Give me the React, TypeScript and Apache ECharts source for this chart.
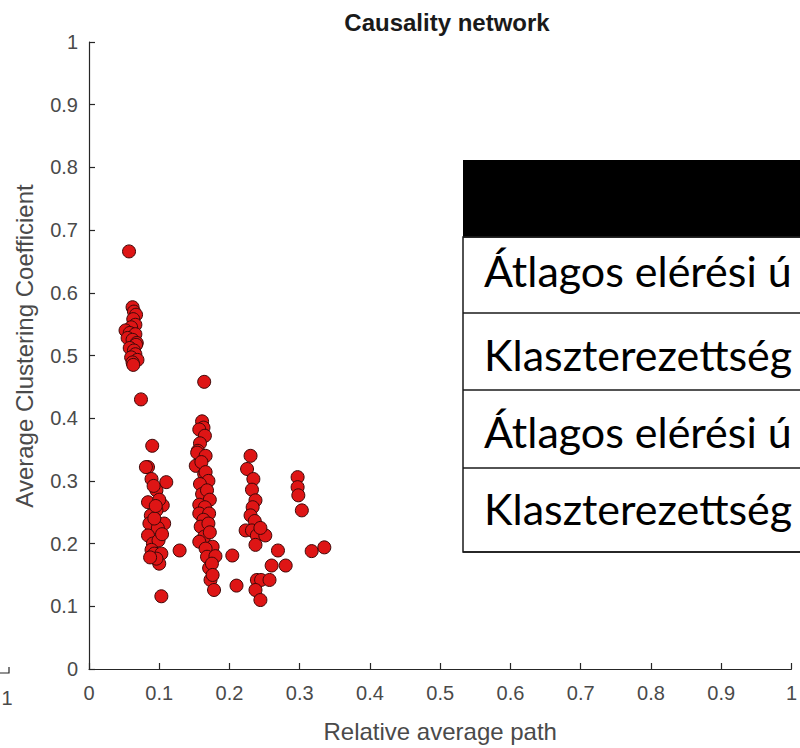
import React, { useEffect, useRef } from "react";
import * as echarts from "echarts";

// ---- Data ----
const titleText = "Causality network";
const xAxisName = "Relative average path";
const yAxisName = "Average Clustering Coefficient";
const xTicks = [0, 0.1, 0.2, 0.3, 0.4, 0.5, 0.6, 0.7, 0.8, 0.9, 1];
const yTicks = [0, 0.1, 0.2, 0.3, 0.4, 0.5, 0.6, 0.7, 0.8, 0.9, 1];

const clusterA: [number, number][] = [
  [0.057, 0.666], [0.062, 0.577], [0.064, 0.570], [0.067, 0.565], [0.063, 0.558],
  [0.066, 0.549], [0.060, 0.545], [0.052, 0.540], [0.058, 0.536], [0.066, 0.534],
  [0.055, 0.528], [0.062, 0.525], [0.068, 0.520], [0.067, 0.517], [0.058, 0.512],
  [0.064, 0.508], [0.066, 0.502], [0.060, 0.497], [0.069, 0.493], [0.062, 0.489],
  [0.063, 0.485], [0.074, 0.430],
];

const clusterB: [number, number][] = [
  [0.090, 0.356], [0.084, 0.322], [0.081, 0.322], [0.089, 0.303], [0.110, 0.298],
  [0.096, 0.285], [0.092, 0.292], [0.084, 0.266], [0.105, 0.261], [0.096, 0.253],
  [0.100, 0.270], [0.088, 0.245], [0.086, 0.232], [0.107, 0.232], [0.098, 0.225],
  [0.093, 0.240], [0.084, 0.213], [0.091, 0.200], [0.099, 0.205], [0.089, 0.190],
  [0.093, 0.184], [0.103, 0.184], [0.100, 0.168], [0.096, 0.176], [0.087, 0.178],
  [0.103, 0.116], [0.129, 0.189], [0.104, 0.215], [0.095, 0.260],
];

const clusterC: [number, number][] = [
  [0.164, 0.458], [0.161, 0.395], [0.163, 0.385], [0.157, 0.382], [0.165, 0.372],
  [0.158, 0.360], [0.155, 0.348], [0.154, 0.345], [0.166, 0.340], [0.152, 0.324],
  [0.160, 0.330], [0.164, 0.311], [0.166, 0.314], [0.170, 0.300], [0.158, 0.295],
  [0.161, 0.279], [0.168, 0.285], [0.172, 0.270], [0.157, 0.262], [0.165, 0.258],
  [0.157, 0.248], [0.171, 0.248], [0.163, 0.238], [0.159, 0.227], [0.170, 0.232],
  [0.164, 0.211], [0.157, 0.203], [0.172, 0.218], [0.176, 0.195], [0.166, 0.192],
  [0.168, 0.179], [0.180, 0.180], [0.171, 0.161], [0.175, 0.168], [0.173, 0.142],
  [0.178, 0.126], [0.176, 0.150], [0.204, 0.181], [0.210, 0.133],
];

const clusterD: [number, number][] = [
  [0.230, 0.340], [0.225, 0.319], [0.234, 0.303], [0.232, 0.286], [0.237, 0.269],
  [0.233, 0.258], [0.230, 0.245], [0.236, 0.236], [0.223, 0.221], [0.232, 0.221],
  [0.239, 0.213], [0.251, 0.213], [0.244, 0.225], [0.237, 0.198], [0.239, 0.142],
  [0.245, 0.142], [0.237, 0.126], [0.244, 0.110], [0.257, 0.142], [0.269, 0.189],
  [0.260, 0.165], [0.280, 0.165],
];

const clusterE: [number, number][] = [
  [0.297, 0.306], [0.297, 0.290], [0.298, 0.277], [0.303, 0.253], [0.317, 0.188],
  [0.335, 0.194],
];

const tableRows = [
  "Átlagos elérési ú",
  "Klaszterezettség",
  "Átlagos elérési ú",
  "Klaszterezettség",
];

export default function App() {
  const ref = useRef<HTMLDivElement>(null);

  useEffect(() => {
    if (!ref.current) return;
    const chart = echarts.init(ref.current, null, { renderer: "svg" });

    const fontFam = "'Liberation Sans', Arial, Helvetica, sans-serif";
    const axisColor = "#262626";
    const labelColor = "#4a4a4a";

    const rowLines = [237, 313, 390, 468, 552];
    const rowTextY = [270, 354, 431, 508];

    const graphics: any[] = [
      // y-axis name
      {
        type: "text",
        x: 24,
        y: 346,
        rotation: Math.PI / 2,
        style: {
          text: yAxisName,
          font: `24px ${fontFam}`,
          fill: labelColor,
          align: "center",
          verticalAlign: "middle",
        },
      },
      // fragment of a neighbouring plot on the far left
      {
        type: "polyline",
        shape: { points: [[0, 673], [9, 673], [9, 667]] },
        style: { stroke: axisColor, lineWidth: 1.2, fill: "none" },
      },
      {
        type: "text",
        x: 7,
        y: 698,
        style: {
          text: "1",
          font: `20px ${fontFam}`,
          fill: labelColor,
          align: "center",
          verticalAlign: "middle",
        },
      },
      // table overlay
      {
        type: "rect",
        shape: { x: 463, y: 160, width: 340, height: 77 },
        style: { fill: "#000" },
      },
      {
        type: "rect",
        shape: { x: 463, y: 237, width: 340, height: 315 },
        style: { fill: "#fff", stroke: "#1a1a1a", lineWidth: 1.5 },
      },
      ...rowLines.map((y) => ({
        type: "line",
        shape: { x1: 463, y1: y, x2: 803, y2: y },
        style: { stroke: "#1a1a1a", lineWidth: 1.5 },
      })),
      ...tableRows.map((t, i) => ({
        type: "text",
        x: 484,
        y: rowTextY[i],
        style: {
          text: t,
          font: `43px Lato, 'Open Sans', sans-serif`,
          fill: "#000",
          align: "left",
          verticalAlign: "middle",
        },
      })),
    ];

    const allPoints = [...clusterA, ...clusterB, ...clusterC, ...clusterD, ...clusterE];

    chart.setOption({
      animation: false,
      backgroundColor: "#fff",
      title: {
        text: titleText,
        left: 442,
        top: 5,
        textAlign: "center",
        textStyle: {
          fontFamily: fontFam,
          fontSize: 24,
          fontWeight: "bold",
          color: "#1a1a1a",
        },
      },
      grid: { left: 89, right: 3, top: 42, bottom: 75, containLabel: false },
      xAxis: {
        type: "value",
        min: xTicks[0],
        max: xTicks[xTicks.length - 1],
        interval: 0.1,
        name: xAxisName,
        nameLocation: "middle",
        nameGap: 50,
        nameTextStyle: { fontFamily: fontFam, fontSize: 24, color: labelColor },
        axisLine: { show: true, lineStyle: { color: axisColor, width: 1.2 } },
        axisTick: { show: true, inside: true, length: 6, lineStyle: { color: axisColor, width: 1.2 } },
        axisLabel: {
          fontFamily: fontFam,
          fontSize: 20,
          color: labelColor,
          margin: 14,
          formatter: (v: number) => String(Math.round(v * 10) / 10),
        },
        splitLine: { show: false },
      },
      yAxis: {
        type: "value",
        min: yTicks[0],
        max: yTicks[yTicks.length - 1],
        interval: 0.1,
        axisLine: { show: true, lineStyle: { color: axisColor, width: 1.2 } },
        axisTick: { show: true, inside: true, length: 6, lineStyle: { color: axisColor, width: 1.2 } },
        axisLabel: {
          fontFamily: fontFam,
          fontSize: 20,
          color: labelColor,
          margin: 11,
          formatter: (v: number) => String(Math.round(v * 10) / 10),
        },
        splitLine: { show: false },
      },
      series: [
        {
          type: "scatter",
          data: allPoints,
          symbol: "circle",
          symbolSize: 13,
          itemStyle: {
            color: "#de1515",
            borderColor: "#3d0808",
            borderWidth: 1,
            opacity: 1,
          },
        },
      ],
      graphic: graphics,
    });

    return () => chart.dispose();
  }, []);

  return (
    <div
      ref={ref}
      style={{ position: "fixed", left: 0, top: 0, width: 800, height: 748, background: "#fff" }}
    />
  );
}
